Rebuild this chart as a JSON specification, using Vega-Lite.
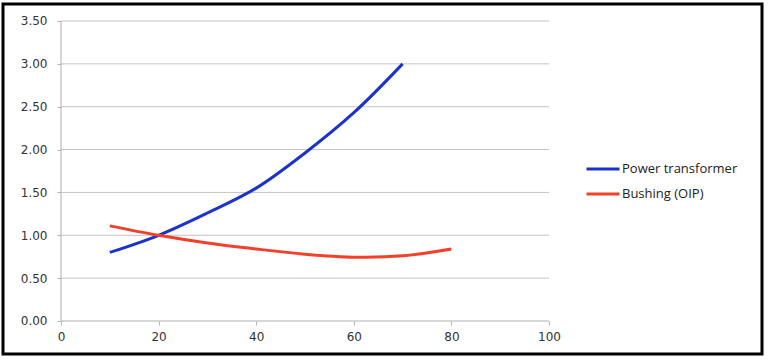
{
  "$schema": "https://vega.github.io/schema/vega-lite/v6.json",
  "width": 759,
  "height": 350,
  "autosize": {"type": "none"},
  "padding": {"left": 3, "top": 4, "right": 6, "bottom": 6},
  "background": "white",
  "config": {
    "view": {"stroke": "#000000", "strokeWidth": 3},
    "axis": {"labelFont": "DejaVu Sans", "labelFontSize": 12, "labelColor": "#333333", "grid": false, "domain": false, "tickColor": "#b5b5b5", "tickSize": 4, "title": null}
  },
  "datasets": {
    "series": [
      {"x": 10, "y": 0.80, "s": "Power transformer"},
      {"x": 20, "y": 1.00, "s": "Power transformer"},
      {"x": 30, "y": 1.26, "s": "Power transformer"},
      {"x": 40, "y": 1.55, "s": "Power transformer"},
      {"x": 50, "y": 1.96, "s": "Power transformer"},
      {"x": 60, "y": 2.43, "s": "Power transformer"},
      {"x": 70, "y": 3.00, "s": "Power transformer"},
      {"x": 10, "y": 1.11, "s": "Bushing (OIP)"},
      {"x": 20, "y": 1.00, "s": "Bushing (OIP)"},
      {"x": 30, "y": 0.91, "s": "Bushing (OIP)"},
      {"x": 40, "y": 0.84, "s": "Bushing (OIP)"},
      {"x": 50, "y": 0.78, "s": "Bushing (OIP)"},
      {"x": 60, "y": 0.745, "s": "Bushing (OIP)"},
      {"x": 70, "y": 0.76, "s": "Bushing (OIP)"},
      {"x": 80, "y": 0.84, "s": "Bushing (OIP)"}
    ],
    "grid": [
      {"y": 0.5, "x0": 0, "x1": 100},
      {"y": 1.0, "x0": 0, "x1": 100},
      {"y": 1.5, "x0": 0, "x1": 100},
      {"y": 2.0, "x0": 0, "x1": 100},
      {"y": 2.5, "x0": 0, "x1": 100},
      {"y": 3.0, "x0": 0, "x1": 100},
      {"y": 3.5, "x0": 0, "x1": 100}
    ],
    "axes": [
      {"xa": 0, "xb": 100, "ya": 0, "yb": 0},
      {"xa": 0, "xb": 0, "ya": 0, "yb": 3.5}
    ]
  },
  "layer": [
    {
      "data": {"name": "grid"},
      "mark": {"type": "rule", "color": "#c4c4c4", "strokeWidth": 1},
      "encoding": {
        "x": {"field": "x0", "type": "quantitative", "scale": {"domain": [-11.885, 143.648], "nice": false, "zero": false},
              "axis": {"orient": "bottom", "offset": -33, "values": [0, 20, 40, 60, 80, 100], "labelPadding": 6, "format": "d"}},
        "x2": {"field": "x1"},
        "y": {"field": "y", "type": "quantitative", "scale": {"domain": [-0.385, 3.6983], "nice": false, "zero": false},
              "axis": {"orient": "left", "offset": -58, "values": [0, 0.5, 1, 1.5, 2, 2.5, 3, 3.5], "format": ".2f", "labelPadding": 10}}
      }
    },
    {
      "data": {"name": "axes"},
      "mark": {"type": "rule", "color": "#b0b0b0", "strokeWidth": 1},
      "encoding": {
        "x": {"field": "xa", "type": "quantitative"},
        "x2": {"field": "xb"},
        "y": {"field": "ya", "type": "quantitative"},
        "y2": {"field": "yb"}
      }
    },
    {
      "data": {"name": "series"},
      "mark": {"type": "line", "interpolate": "catmull-rom", "strokeWidth": 3},
      "encoding": {
        "x": {"field": "x", "type": "quantitative"},
        "y": {"field": "y", "type": "quantitative"},
        "color": {
          "field": "s", "type": "nominal",
          "scale": {"domain": ["Power transformer", "Bushing (OIP)"], "range": ["#1c33c9", "#f2402a"]},
          "legend": {
            "title": null, "orient": "none", "legendX": 582, "legendY": 147, "padding": 0,
            "symbolType": "stroke", "symbolSize": 1089, "symbolStrokeWidth": 3,
            "labelFont": "Open Sans", "labelFontSize": 13, "labelColor": "#222222", "labelOffset": 1,
            "rowPadding": -9
          }
        }
      }
    }
  ]
}
